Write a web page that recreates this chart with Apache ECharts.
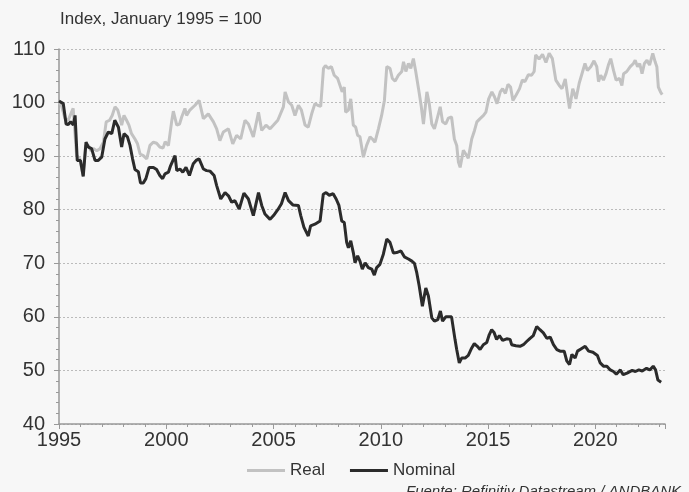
<!DOCTYPE html>
<html>
<head>
<meta charset="utf-8">
<script src="https://cdn.jsdelivr.net/npm/echarts@6/dist/echarts.min.js"></script>
<style>
html,body{margin:0;padding:0;background:#f7f7f7;}
#c{width:689px;height:492px;}
</style>
</head>
<body>
<div id="c"></div>
<script>
const subtitle = 'Index, January 1995 = 100';
const source = 'Fuente: Refinitiv Datastream / ANDBANK';
const seriesNames = ['Real', 'Nominal'];
const yTicks = [40, 50, 60, 70, 80, 90, 100, 110];
const xTicks = [1995, 2000, 2005, 2010, 2015, 2020];

const realDates = [1995.0,1995.1,1995.28,1995.43,1995.55,1995.66,1995.74,1995.82,1995.97,1996.12,1996.24,1996.37,1996.49,1996.6,1996.76,1996.91,1997.07,1997.2,1997.36,1997.48,1997.61,1997.74,1997.85,1997.92,1998.03,1998.15,1998.26,1998.38,1998.54,1998.66,1998.78,1998.93,1999.09,1999.24,1999.4,1999.55,1999.7,1999.85,1999.95,2000.1,2000.25,2000.33,2000.49,2000.62,2000.72,2000.87,2000.95,2001.1,2001.34,2001.53,2001.73,2001.96,2002.2,2002.35,2002.5,2002.66,2002.9,2003.1,2003.28,2003.47,2003.67,2003.83,2004.06,2004.3,2004.45,2004.65,2004.84,2005.0,2005.2,2005.46,2005.54,2005.7,2005.85,2006.0,2006.16,2006.3,2006.47,2006.62,2006.78,2006.93,2007.06,2007.2,2007.33,2007.42,2007.55,2007.7,2007.83,2007.99,2008.1,2008.2,2008.3,2008.36,2008.49,2008.6,2008.72,2008.83,2008.92,2009.03,2009.19,2009.34,2009.5,2009.61,2009.73,2009.89,2010.04,2010.17,2010.28,2010.43,2010.54,2010.67,2010.82,2010.98,2011.06,2011.17,2011.29,2011.4,2011.52,2011.63,2011.76,2011.88,2011.99,2012.15,2012.26,2012.38,2012.5,2012.61,2012.77,2012.88,2013.03,2013.15,2013.3,2013.43,2013.54,2013.62,2013.7,2013.85,2013.96,2014.08,2014.24,2014.37,2014.48,2014.63,2014.79,2014.9,2015.03,2015.18,2015.3,2015.42,2015.57,2015.68,2015.81,2015.93,2016.05,2016.16,2016.31,2016.47,2016.6,2016.72,2016.88,2017.03,2017.15,2017.22,2017.38,2017.54,2017.7,2017.85,2018.0,2018.16,2018.32,2018.45,2018.6,2018.72,2018.8,2018.95,2019.1,2019.25,2019.41,2019.52,2019.63,2019.79,2019.94,2020.07,2020.15,2020.25,2020.38,2020.5,2020.61,2020.72,2020.85,2020.97,2021.13,2021.24,2021.32,2021.47,2021.63,2021.78,2021.86,2021.97,2022.07,2022.18,2022.29,2022.41,2022.53,2022.68,2022.79,2022.87,2022.94,2023.05,2023.12];
const realValues = [100,99.6,97,96.7,97.9,98.9,94.5,90.1,89.5,86.4,92,92,91,91.4,91,91.4,92.6,96.4,96.7,97.6,99.2,98.6,97,95.8,97.6,96.7,95.8,94.2,93.2,92.3,90.4,90.1,89.5,92,92.6,92.4,91.7,91.5,92.7,92,96.4,98.4,95.8,96,97.3,98.9,97.6,98.6,99.5,100.4,97,97.9,96.4,95.1,92.9,94.5,95.1,92.3,93.9,93.2,96.7,96,93.6,98.2,94.8,95.8,95.1,95.8,96.7,99.2,102,100.1,99.5,97.6,99.5,98.6,95.8,95.4,97.9,99.8,99.5,99.3,106.4,106.9,106.4,106.7,105.1,104.5,103.2,102,102.9,98.2,98.6,100.7,95.8,95.4,93.9,93.6,89.8,92,93.6,93.2,92.6,95.1,97.6,100.4,106.7,106.4,104.5,104,105.1,105.8,107.6,105.8,107.3,106.4,108.2,105.8,102.6,99.5,96,102,99.8,96,95.1,96.7,99.2,96.4,96,97.1,97.3,93.2,92,88.9,87.9,91.1,90.4,89.6,93.2,94.8,96.4,97,97.6,98.2,100.7,102,101.1,99.8,102,102.6,101.7,103.4,102.9,100.4,101.4,102.6,104.2,103.9,105.2,105.1,105.8,108.9,108.1,109,107.5,109.2,108.2,104.2,103.2,102.6,104.4,101.1,98.9,102.6,100.7,103.6,105.8,107.3,106,106.7,107.8,106.7,103.9,105.1,104.2,105.4,107,108.2,106,104.2,104.5,103.2,105.4,105.8,106.7,107.3,107.9,106.7,107.3,105.4,107.3,107.9,107,109.2,107.6,106.7,102.9,101.9,101.5];

const nominalDates = [1995.0,1995.05,1995.2,1995.33,1995.43,1995.54,1995.67,1995.75,1995.85,1996.0,1996.13,1996.26,1996.37,1996.52,1996.68,1996.83,1996.99,1997.14,1997.3,1997.46,1997.6,1997.77,1997.92,1998.03,1998.19,1998.31,1998.43,1998.54,1998.7,1998.8,1998.93,1999.05,1999.2,1999.4,1999.55,1999.7,1999.83,1999.94,2000.1,2000.2,2000.41,2000.49,2000.64,2000.77,2000.92,2001.08,2001.26,2001.39,2001.53,2001.73,2001.88,2002.04,2002.23,2002.35,2002.54,2002.74,2002.9,2003.05,2003.2,2003.4,2003.62,2003.83,2004.06,2004.3,2004.45,2004.6,2004.84,2005.0,2005.2,2005.37,2005.54,2005.7,2005.9,2006.16,2006.27,2006.42,2006.62,2006.73,2006.93,2007.17,2007.32,2007.45,2007.6,2007.78,2007.92,2008.05,2008.18,2008.3,2008.41,2008.49,2008.6,2008.72,2008.8,2008.92,2009.03,2009.14,2009.27,2009.42,2009.58,2009.7,2009.81,2009.96,2010.12,2010.28,2010.43,2010.59,2010.74,2010.94,2011.1,2011.29,2011.45,2011.57,2011.68,2011.79,2011.94,2012.1,2012.22,2012.38,2012.5,2012.66,2012.78,2012.88,2013.03,2013.3,2013.46,2013.54,2013.66,2013.77,2013.93,2014.08,2014.24,2014.36,2014.5,2014.63,2014.78,2014.94,2015.06,2015.17,2015.28,2015.4,2015.53,2015.68,2015.87,2016.03,2016.1,2016.3,2016.49,2016.65,2016.8,2016.96,2017.11,2017.27,2017.42,2017.58,2017.74,2017.9,2018.05,2018.21,2018.36,2018.55,2018.67,2018.8,2018.91,2019.06,2019.17,2019.33,2019.53,2019.69,2019.89,2020.1,2020.23,2020.38,2020.54,2020.7,2020.85,2020.98,2021.17,2021.3,2021.48,2021.72,2021.87,2022.03,2022.19,2022.39,2022.54,2022.7,2022.81,2022.92,2023.07];
const nominalValues = [100.3,100.2,99.8,96,95.9,96.4,95.8,97.6,89.2,89.2,86.2,92.6,91.7,91.4,89.2,89.2,89.8,93.2,94.5,94.2,96.7,95.4,91.7,94.2,93.6,92,89.5,87.5,87.1,85,85,85.8,87.9,87.9,87.5,86.4,85.8,86.7,87,88.2,90.1,87.3,87.6,87,87.9,86.4,88.6,89.2,89.5,87.6,87.3,87.2,86.4,84.5,82,83.2,82.6,81.4,81.7,80.1,83.1,82,78.9,83.2,80.8,79.2,78.2,78.9,80,81.1,83.2,81.7,80.9,80.8,78.9,76.7,75.1,77,77.3,77.9,82.9,83.2,82.7,83,82,80.8,77.9,77.6,73.9,72.9,74.2,72,70.1,71.4,70.4,68.9,70.1,69.2,68.9,67.8,69.2,69.8,71.7,74.5,73.9,71.9,72,72.3,71.2,70.8,70.4,70,68.2,65.8,62,65.4,63.9,59.8,59.2,59.5,61.1,59.2,60,60,55.8,53.9,51.4,52.3,52.3,52.8,54.2,55,54.5,53.9,54.8,55.2,56.7,57.6,57.1,55.8,56.5,55.6,55.9,55.8,54.8,54.6,54.5,54.8,55.4,56,56.5,58.2,57.6,57,56,56.2,54.8,53.9,53.6,53.6,51.8,51.1,53,52.3,53.6,54,54.5,53.6,53.4,52.8,51.4,50.8,50.8,50.1,49.8,49.3,50.1,49.2,49.5,50,49.8,50.1,49.9,50.4,50.1,50.8,50.1,48.2,47.8];

const zip = (a, b) => a.map((d, i) => [d, b[i]]);
const FONT = '"Liberation Sans", Arial, sans-serif';

const chart = echarts.init(document.getElementById('c'));
chart.setOption({
  backgroundColor: '#f7f7f7',
  animation: false,
  textStyle: { fontFamily: FONT },
  title: {
    text: subtitle,
    left: 55, top: 6,
    textStyle: { fontSize: 17, fontWeight: 'normal', color: '#333', fontFamily: FONT }
  },
  graphic: [{
    type: 'text', left: 406, top: 484,
    style: { text: source, fontSize: 15, fontStyle: 'italic', fill: '#333', fontFamily: FONT }
  }],
  legend: {
    top: 457, left: 242,
    itemWidth: 38, itemHeight: 3, itemGap: 25,
    icon: 'rect',
    textStyle: { fontSize: 17, color: '#333', fontFamily: FONT },
    data: seriesNames
  },
  grid: { left: 59, right: 24, top: 49, bottom: 68, containLabel: false },
  xAxis: {
    type: 'value', min: xTicks[0], max: 2023.25, interval: 5,
    axisLine: { lineStyle: { color: '#999', width: 1.5 } },
    axisTick: { show: true, length: 5, lineStyle: { color: '#999' } },
    minorTick: { show: true, splitNumber: 5, length: 3, lineStyle: { color: '#999' } },
    splitLine: { show: false },
    axisLabel: { fontSize: 20, color: '#333', margin: 6, showMaxLabel: false,
      formatter: v => xTicks.includes(v) ? String(v) : '' }
  },
  yAxis: {
    type: 'value', min: yTicks[0], max: yTicks[yTicks.length - 1], interval: 10,
    axisLine: { show: true, lineStyle: { color: '#999', width: 1.5 } },
    axisTick: { show: true, length: 5, lineStyle: { color: '#999' } },
    minorTick: { show: true, splitNumber: 5, length: 3, lineStyle: { color: '#999' } },
    splitLine: { show: true, lineStyle: { color: '#bbb', type: [2, 2], width: 1 } },
    axisLabel: { fontSize: 20, color: '#333', margin: 14 }
  },
  series: [
    { name: seriesNames[0], type: 'line', data: zip(realDates, realValues), showSymbol: false,
      lineStyle: { color: '#c2c2c2', width: 3 }, itemStyle: { color: '#c2c2c2' }, z: 2 },
    { name: seriesNames[1], type: 'line', data: zip(nominalDates, nominalValues), showSymbol: false,
      lineStyle: { color: '#2b2b2b', width: 3 }, itemStyle: { color: '#2b2b2b' }, z: 3 }
  ]
});
</script>
</body>
</html>
